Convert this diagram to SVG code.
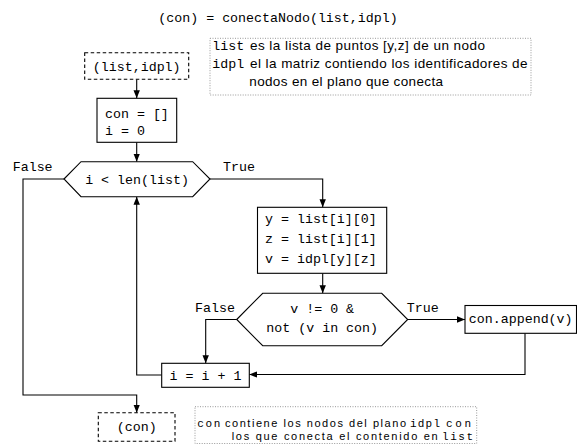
<svg xmlns="http://www.w3.org/2000/svg" width="577" height="444" viewBox="0 0 577 444">
  <style>
    .mono { font-family: "Liberation Mono", "DejaVu Sans Mono", monospace; font-size: 13.3px; fill: #000; }
    .sans { font-family: "Liberation Sans", "DejaVu Sans", sans-serif; font-size: 13.5px; fill: #000; }
    .small { font-size: 11px; }
    .box { fill: #fff; stroke: #000; stroke-width: 1.1; }
    .io { fill: #fff; stroke: #000; stroke-width: 1.1; stroke-dasharray: 3.5 2.5; }
    .note { fill: none; stroke: #999; stroke-width: 1; stroke-dasharray: 1 1.5; }
    .edge { fill: none; stroke: #000; stroke-width: 1.1; }
  </style>
  <defs>
    <marker id="arrow" viewBox="0 0 8 8" refX="8" refY="4" markerWidth="8" markerHeight="8" markerUnits="userSpaceOnUse" orient="auto">
      <path d="M0,0.8 L8,4 L0,7.2 Z" fill="#000"/>
    </marker>
  </defs>

  <!-- function signature -->
  <text class="mono" x="158.3" y="21.7">(con) = conectaNodo(list,idpl)</text>

  <!-- connectors -->
  <g id="connectors">
    <path class="edge" d="M136.7,79.3 V98.3" marker-end="url(#arrow)"/>
    <path class="edge" d="M136.7,142.3 V161.7" marker-end="url(#arrow)"/>
    <path class="edge" d="M210,179 H322.7 V207.3" marker-end="url(#arrow)"/>
    <path class="edge" d="M322.7,273.3 V293.3" marker-end="url(#arrow)"/>
    <path class="edge" d="M236.7,319.5 H205.7 V363.3" marker-end="url(#arrow)"/>
    <path class="edge" d="M407.7,319.5 H465" marker-end="url(#arrow)"/>
    <path class="edge" d="M525,333.3 V374.5 H249.3" marker-end="url(#arrow)"/>
    <path class="edge" d="M161.7,375 H136.7 V196.7" marker-end="url(#arrow)"/>
    <path class="edge" d="M64,179 H23 V395 H136.7 V412.7" marker-end="url(#arrow)"/>
    <text class="mono" x="12.7" y="171">False</text>
    <text class="mono" x="223" y="171">True</text>
    <text class="mono" x="195" y="312.3">False</text>
    <text class="mono" x="406.7" y="312.3">True</text>
  </g>

  <!-- input parameters -->
  <g id="input">
    <rect class="io" x="84.7" y="52.7" width="104" height="26.6"/>
    <text class="mono" x="136.7" y="70.7" text-anchor="middle">(list,idpl)</text>
  </g>

  <!-- note on inputs -->
  <g id="note-input">
    <rect class="note" x="210" y="38.3" width="321" height="56.7"/>
    <text class="mono" x="212.3" y="50">list</text>
    <text class="sans" x="250" y="50" textLength="235" lengthAdjust="spacing">es la lista de puntos [y,z] de un nodo</text>
    <text class="mono" x="212.3" y="68.3">idpl</text>
    <text class="sans" x="250" y="68.3" textLength="277.5" lengthAdjust="spacing">el la matriz contiendo los identificadores de</text>
    <text class="sans" x="249.3" y="86" textLength="193.7" lengthAdjust="spacing">nodos en el plano que conecta</text>
  </g>

  <!-- initialisation -->
  <g id="init">
    <rect class="box" x="97" y="98.3" width="79.7" height="44"/>
    <text class="mono" x="105" y="118">con = []</text>
    <text class="mono" x="105" y="135">i = 0</text>
  </g>

  <!-- loop condition -->
  <g id="loop-test">
    <polygon class="box" points="64,179 81,161.7 192.7,161.7 210,179 192.7,196.7 81,196.7"/>
    <text class="mono" x="137" y="183.5" text-anchor="middle">i &lt; len(list)</text>
  </g>

  <!-- read point -->
  <g id="read-point">
    <rect class="box" x="257.5" y="207.3" width="129.2" height="66"/>
    <text class="mono" x="265" y="223.3">y = list[i][0]</text>
    <text class="mono" x="265" y="243.3">z = list[i][1]</text>
    <text class="mono" x="265" y="262.7">v = idpl[y][z]</text>
  </g>

  <!-- membership test -->
  <g id="member-test">
    <polygon class="box" points="236.7,319.5 262.7,293.3 381.7,293.3 407.7,319.5 381.7,345.7 262.7,345.7"/>
    <text class="mono" x="322.2" y="313.3" text-anchor="middle">v != 0 &amp;</text>
    <text class="mono" x="322.2" y="331.7" text-anchor="middle">not (v in con)</text>
  </g>

  <!-- append -->
  <g id="append">
    <rect class="box" x="465" y="305.5" width="111.5" height="27.8"/>
    <text class="mono" x="520.7" y="322.7" text-anchor="middle">con.append(v)</text>
  </g>

  <!-- increment -->
  <g id="increment">
    <rect class="box" x="161.7" y="363.3" width="87.6" height="24"/>
    <text class="mono" x="205.5" y="379.5" text-anchor="middle">i = i + 1</text>
  </g>

  <!-- output -->
  <g id="output">
    <rect class="io" x="98.3" y="412.7" width="76.7" height="28.6"/>
    <text class="mono" x="136.7" y="430.5" text-anchor="middle">(con)</text>
  </g>

  <!-- note on output: tighter lines, so a slightly smaller face -->
  <g id="note-output">
    <rect class="note" x="195" y="406.7" width="281.7" height="36.8"/>
    <text class="mono small" x="197.3" y="427" textLength="23" lengthAdjust="spacing">con</text>
    <text class="sans small" x="225" y="427" textLength="181" lengthAdjust="spacing">contiene los nodos del plano</text>
    <text class="mono small" x="410" y="427" textLength="30" lengthAdjust="spacing">idpl</text>
    <text class="mono small" x="446" y="427" textLength="25" lengthAdjust="spacing">con</text>
    <text class="sans small" x="231.7" y="439.5" textLength="206" lengthAdjust="spacing">los que conecta el contenido en</text>
    <text class="mono small" x="442" y="439.5" textLength="31" lengthAdjust="spacing">list</text>
  </g>
</svg>
